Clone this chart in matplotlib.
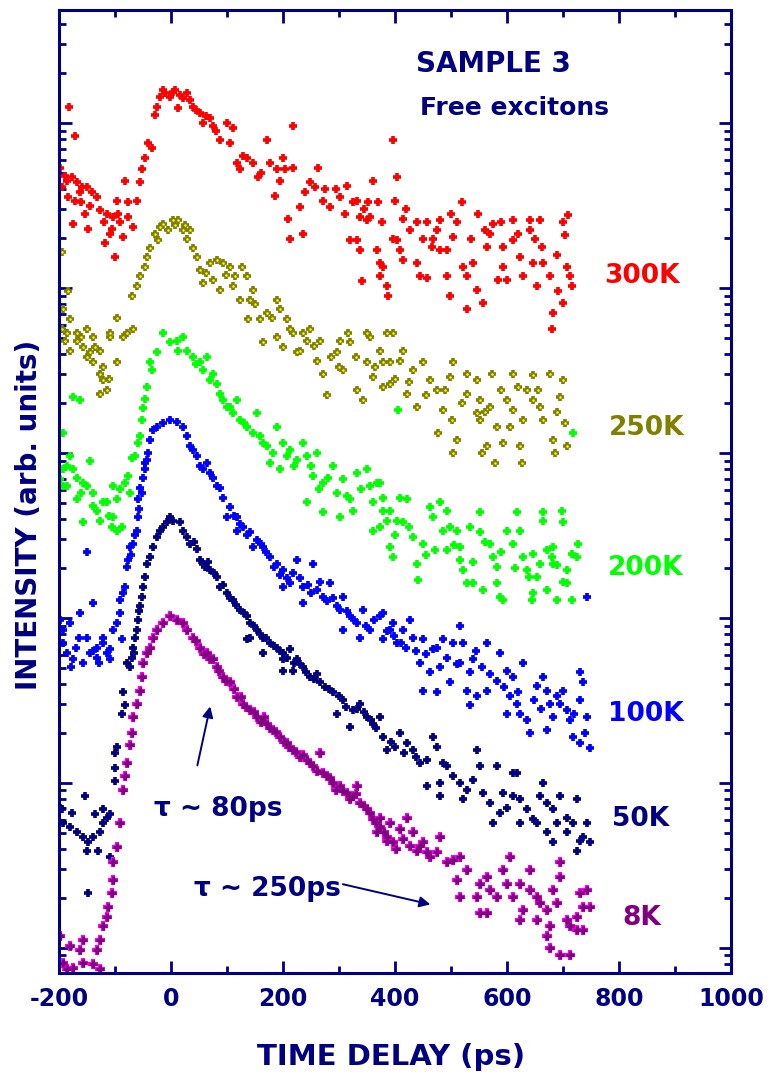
import numpy as np
import matplotlib
matplotlib.use('Agg')
import matplotlib.pyplot as plt
from matplotlib.ticker import LogLocator, NullFormatter

# time delay (ps), log10 of intensity (arb. units)
pts_300k = [(-182,5.10),(-171,4.92),(-198,4.73),(-195,4.61),(-186,4.65),(-177,4.67),(-168,4.64),(-159,4.61),(-184,4.55),
            (-171,4.53),(-163,4.58),(-150,4.61),(-141,4.58),(-132,4.55),(-154,4.45),(-175,4.39),(-148,4.36),(-127,4.47),
            (-114,4.45),(-104,4.43),(-95,4.45),(-91,4.40),(-109,4.33),(-86,4.31),(-118,4.27),(-100,4.19),(-77,4.43),
            (-68,4.37),(-96,4.53),(-77,4.52),(-82,4.65),(-61,4.53),(-55,4.64),(-52,4.72),(-46,4.79),(-41,4.88),(-34,4.85),
            (-29,5.05),(-25,5.10),(-20,5.16),(-14,5.20),(-2,5.16),(4,5.19),(16,5.17),(29,5.18),(34,5.14),(13,5.09),(39,5.10),
            (52,5.06),(57,5.00),(70,5.03),(75,4.98),(88,4.90),(100,5.00),(111,4.97),(105,4.88),(118,4.76),(123,4.72),
            (136,4.79),(146,4.76),(155,4.67),(171,4.90),(177,4.76),(189,4.72),(186,4.56),(200,4.79),(204,4.72),(218,4.73),
            (218,4.98),(209,4.42),(213,4.30),(236,4.33),(230,4.49),(248,4.64),(263,4.73),(257,4.61),(271,4.53),(284,4.49),
            (302,4.55),(314,4.62),(311,4.45),(325,4.52),(338,4.43),(320,4.29),(338,4.23),(350,4.41),(361,4.65),(368,4.23),
            (373,4.15),(386,4.01),(388,3.95),(341,4.04),(396,4.90),(400,4.53),(404,4.29),(332,4.53),(352,4.52),(355,4.43),
            (332,4.29),(377,4.40),(379,4.13),(373,4.07),(404,4.67),(414,4.42),(427,4.35),(439,4.40),(457,4.40),(396,4.30),
            (409,4.23),(414,4.17),(439,4.15),(445,4.07),(457,4.06),(468,4.30),(466,4.25),(480,4.41),(480,4.23),(493,4.23),
            (493,4.07),(498,3.95),(511,4.40),(504,4.31),(521,4.13),(520,4.52),(529,4.07),(529,3.87),(539,4.15),(548,4.45),
            (546,3.99),(557,3.91),(564,4.25),(570,4.33),(575,4.39),(584,4.05),(593,4.25),(593,4.13),(600,4.05),(611,4.41),
            (611,4.29),(623,4.19),(629,4.07),(641,4.41),(641,4.35),(646,4.15),(654,4.01),(659,4.41),(663,4.25),(664,4.15),
            (677,4.07),(682,3.85),(680,3.75),(691,3.98),(700,3.91),(704,4.32),(709,4.44),(707,4.13),(716,4.01),(713,4.07),
            (-10,5.18),(8,5.20),(22,5.15),(45,5.08),(62,5.04),(80,4.95),(128,4.80),(160,4.70),(195,4.65),(240,4.58),
            (275,4.60),(295,4.60),(345,4.48),(370,4.52),(420,4.48),(450,4.30),(475,4.35),(500,4.45),(535,4.30),(560,4.35),
            (590,4.40),(620,4.33),(650,4.30),(690,4.20),(700,4.40),(-190,4.68),(-160,4.52),(-145,4.50),(-120,4.40),
            (-105,4.36)]

pts_250k = [(-195,4.22),(-184,3.98),(-193,3.87),(-180,3.81),(-195,3.75),(-186,3.73),(-168,3.73),(-150,3.75),(-139,3.70),
            (-96,3.82),(-109,3.73),(-86,3.70),(-68,3.75),(-70,3.95),(-61,4.01),(-55,4.07),(-46,4.13),(-43,4.19),(-38,4.24),
            (-29,4.33),(-23,4.29),(-14,4.39),(-5,4.35),(4,4.41),(13,4.41),(21,4.35),(29,4.30),(34,4.35),(39,4.24),(46,4.19),
            (52,4.11),(57,4.03),(70,4.15),(82,4.17),(93,4.15),(105,4.13),(75,4.05),(88,3.99),(111,4.01),(127,4.13),
            (136,4.07),(146,3.99),(141,3.93),(123,3.93),(138,3.81),(159,3.81),(171,3.85),(189,3.93),(195,3.87),(207,3.81),
            (213,3.75),(218,3.73),(236,3.73),(248,3.75),(266,3.68),(302,3.68),(316,3.73),(350,3.73),(355,3.70),(-168,3.68),
            (-180,3.62),(-157,3.64),(-145,3.61),(-127,3.62),(-139,3.55),(-121,3.52),(-96,3.55),(-127,3.48),(-121,3.44),
            (-114,3.38),(-127,3.36),(-79,3.73),(-109,3.70),(164,3.67),(189,3.70),(200,3.64),(225,3.61),(243,3.68),
            (261,3.56),(271,3.48),(279,3.35),(296,3.61),(307,3.50),(320,3.67),(332,3.38),(343,3.32),(350,3.55),(361,3.46),
            (373,3.62),(379,3.40),(391,3.55),(396,3.73),(386,3.73),(379,3.55),(391,3.42),(409,3.56),(414,3.62),(432,3.50),
            (421,3.36),(439,3.28),(450,3.55),(463,3.44),(475,3.38),(486,3.26),(498,3.46),(504,3.55),(502,3.20),(477,3.12),
            (511,3.08),(504,3.00),(529,3.48),(529,3.36),(546,3.44),(552,3.32),(546,3.24),(552,3.20),(564,3.04),(555,3.00),
            (573,3.48),(570,3.28),(582,3.16),(579,2.94),(593,3.06),(600,3.32),(611,3.48),(605,3.16),(611,3.26),(623,3.04),
            (627,2.94),(629,3.20),(636,3.38),(646,3.47),(646,3.32),(659,3.28),(664,3.20),(677,3.48),(682,3.08),(686,3.00),
            (695,3.34),(700,3.44),(704,3.18),(707,3.04),
            (-190,3.68),(-160,3.70),(-150,3.58),(-135,3.64),(-110,3.45),(-20,4.37),(8,4.38),(25,4.38),(62,4.09),(99,4.08),
            (115,4.07),(150,3.90),(180,3.82),(230,3.62),(255,3.65),(285,3.58),(300,3.52),(330,3.58),(365,3.52),(400,3.45),
            (425,3.43),(455,3.35),(490,3.38),(520,3.30),(560,3.25),(590,3.38),(620,3.40),(655,3.38),(690,3.25)]

pts_200k = [(-14,3.73),(-2,3.67),(11,3.68),(21,3.70),(29,3.62),(13,3.62),(-25,3.61),(-38,3.55),(-34,3.50),(-43,3.40),
            (-46,3.33),(-50,3.27),(-52,3.20),(-55,3.10),(-59,3.06),(-64,2.98),(-70,2.97),(-77,2.86),(-82,2.82),(-91,2.78),
            (-73,2.76),(-104,2.80),(-96,2.72),(-104,2.61),(-96,2.53),(-105,2.55),(-88,2.55),(-121,2.70),(-132,2.65),
            (-127,2.59),(-139,2.76),(-150,2.80),(-157,2.82),(-168,2.85),(-175,2.90),(-186,2.92),(-198,2.84),(-193,2.80),
            (-168,2.72),(-157,2.58),(-145,2.95),(-193,3.12),(-175,3.34),(-163,3.32),(-180,2.98),(-193,2.90),(39,3.58),
            (52,3.55),(57,3.50),(64,3.58),(75,3.48),(82,3.42),(70,3.44),(88,3.36),(93,3.32),(105,3.28),(111,3.24),
            (118,3.32),(123,3.20),(136,3.16),(154,3.24),(146,3.12),(159,3.10),(171,3.04),(189,3.16),(200,3.06),(213,3.02),
            (225,2.96),(177,2.94),(195,2.90),(236,3.06),(243,2.98),(261,3.00),(254,2.86),(271,2.82),(289,2.92),(296,2.76),
            (307,2.84),(320,2.72),(332,2.88),(350,2.90),(355,2.80),(368,2.82),(379,2.73),(391,2.65),(404,2.59),(243,2.70),
            (271,2.64),(302,2.61),(325,2.65),(361,2.53),(373,2.55),(391,2.43),(396,2.37),(405,3.26),(373,2.82),(379,2.65),
            (386,2.59),(409,2.73),(421,2.72),(414,2.58),(432,2.49),(439,2.33),(441,2.23),(450,2.45),(463,2.67),(468,2.61),
            (480,2.70),(493,2.65),(486,2.53),(498,2.55),(511,2.53),(471,2.41),(493,2.41),(516,2.43),(516,2.35),(521,2.29),
            (529,2.21),(539,2.21),(534,2.55),(552,2.64),(552,2.52),(557,2.17),(570,2.45),(575,2.37),(582,2.31),(582,2.21),
            (588,2.13),(593,2.11),(600,2.53),(611,2.45),(618,2.64),(623,2.53),(629,2.37),(636,2.29),(646,2.39),(654,2.25),
            (659,2.33),(646,2.15),(645,2.11),(664,2.64),(664,2.59),(671,2.41),(682,2.43),(680,2.37),(682,2.33),(671,2.17),
            (689,2.11),(698,2.65),(700,2.58),(707,2.29),(707,2.21),(716,2.11),(716,2.39),(725,2.37),(727,2.45),(718,3.12),
            (45,3.54),(100,3.28),(130,3.18),(165,3.06),(182,3.00),(207,2.98),(220,2.92),(250,2.92),(265,2.78),(280,2.85),
            (315,2.74),(340,2.78),(360,2.70),(400,2.50),(425,2.55),(455,2.38),(505,2.44),(540,2.34),(560,2.46),(590,2.40),
            (615,2.30),(640,2.25),(690,2.32),(700,2.22),(-185,2.80),(-160,2.76),(-140,2.68),(-115,2.70),(-110,2.62)]

pts_100k = [(-2,3.20),(11,3.19),(-14,3.18),(-25,3.16),(-32,3.14),(-38,3.08),(-41,3.00),(-43,2.96),(-46,2.94),(-50,2.85),
            (-55,2.79),(-59,2.72),(-59,2.61),(-61,2.53),(-68,2.45),(-73,2.43),(-77,2.35),(-79,2.31),(-82,2.19),(-91,2.11),
            (-91,2.03),(-96,1.97),(-104,1.93),(-88,1.87),(-109,1.81),(-121,1.85),(-132,1.76),(-145,1.79),(-157,1.73),
            (-175,1.75),(-186,1.79),(-193,1.85),(-193,1.93),(-180,1.97),(-198,1.99),(-163,2.03),(-150,1.88),(-132,1.82),
            (-121,1.88),(-139,2.09),(-150,2.40),(-109,1.75),(21,3.16),(29,3.10),(34,3.04),(46,2.98),(52,2.92),(64,2.94),
            (75,2.85),(88,2.79),(93,2.73),(105,2.67),(118,2.61),(129,2.55),(141,2.52),(154,2.47),(164,2.43),(177,2.37),
            (189,2.33),(200,2.29),(213,2.21),(225,2.35),(236,2.19),(254,2.33),(261,2.17),(271,2.13),(284,2.21),(296,2.07),
            (307,2.13),(320,2.01),(332,1.97),(343,2.05),(355,1.93),(373,2.01),(379,1.87),(391,1.93),(404,1.85),(338,1.88),
            (100,2.61),(118,2.53),(146,2.43),(200,2.19),(236,2.09),(307,1.93),(379,2.03),(396,1.97),(414,1.93),(427,1.99),
            (432,1.88),(450,1.87),(468,1.81),(486,1.87),(504,1.85),(516,1.95),(521,1.85),(539,1.75),(564,1.85),(588,1.79),
            (445,1.73),(629,1.73),(743,2.13),(463,1.67),(450,1.56),(480,1.70),(498,1.61),(475,1.55),(516,1.73),(534,1.67),
            (529,1.56),(546,1.53),(534,1.47),(564,1.56),(582,1.62),(600,1.68),(611,1.64),(605,1.53),(600,1.42),(618,1.48),
            (623,1.42),(636,1.38),(641,1.30),(654,1.59),(664,1.64),(671,1.56),(677,1.48),(682,1.40),(671,1.32),(689,1.53),
            (700,1.56),(707,1.44),(713,1.38),(730,1.67),(736,1.61),(730,1.50),(743,1.40),(718,1.28),(730,1.24),(748,1.21),
            (40,3.02),(58,2.90),(70,2.88),(82,2.80),(112,2.62),(124,2.57),(135,2.50),(160,2.45),(170,2.40),(184,2.31),
            (195,2.26),(207,2.24),(218,2.27),(230,2.24),(245,2.20),(250,2.15),(266,2.22),(278,2.10),(290,2.12),(302,2.05),
            (314,2.04),(326,1.99),(348,1.95),(362,1.99),(385,1.92),(398,1.89),(410,1.85),(420,1.82),(438,1.80),(456,1.78),
            (475,1.82),(492,1.76),(510,1.72),(545,1.80),(555,1.70),(570,1.66),(595,1.58),(620,1.55),(648,1.50),(660,1.45),
            (695,1.48),(720,1.42),(740,1.30),(-47,2.90),(-52,2.76),(-57,2.66),(-64,2.50),(-71,2.38),(-86,2.15),
            (-170,1.82),(-165,1.88),(-140,1.80),(-115,1.79),(-178,1.70),(-128,1.73)]

pts_50k = [(-2,2.61),(4,2.59),(-7,2.58),(-14,2.55),(-20,2.53),(-25,2.49),(-32,2.43),(-38,2.37),(-43,2.33),(-46,2.25),
           (-50,2.19),(-52,2.13),(-55,2.07),(-59,1.99),(-61,1.93),(-68,1.82),(-70,1.76),(-73,1.70),(16,2.58),(21,2.53),
           (29,2.49),(34,2.45),(46,2.42),(52,2.35),(57,2.33),(70,2.29),(82,2.25),(88,2.19),(100,2.15),(111,2.11),
           (123,2.05),(136,2.01),(141,1.97),(154,1.93),(164,1.88),(177,1.85),(189,1.82),(200,1.79),(213,1.81),(225,1.75),
           (236,1.70),(141,1.88),(164,1.79),(136,1.87),(-86,1.55),(-82,1.47),(-88,1.42),(-96,1.22),(-100,1.18),
           (-100,1.09),(-100,1.01),(-154,0.92),(-195,0.84),(-193,0.76),(-180,0.73),(-168,0.70),(-157,0.67),(-148,0.64),
           (-139,0.67),(-127,0.70),(-121,0.76),(-114,0.79),(-109,0.81),(-136,0.81),(-121,0.84),(-150,0.59),(-130,0.59),
           (-109,0.55),(-148,0.33),(-177,0.82),(-198,0.85),(-79,1.73),(200,1.75),(218,1.68),(248,1.64),(266,1.61),
           (289,1.55),(307,1.50),(325,1.44),(338,1.48),(350,1.40),(361,1.36),(379,1.28),(386,1.20),(320,1.34),(296,1.42),
           (200,1.68),(373,1.40),(409,1.30),(421,1.24),(432,1.20),(445,1.12),(457,1.14),(468,1.28),(475,1.22),(486,1.12),
           (493,1.10),(480,1.00),(457,0.98),(480,0.92),(504,1.04),(516,1.00),(529,0.96),(539,1.02),(546,1.20),(552,1.10),
           (521,0.90),(557,0.94),(570,0.88),(582,1.10),(593,0.94),(588,0.82),(575,0.76),(600,0.85),(611,0.92),(618,1.06),
           (623,0.90),(623,0.76),(636,0.84),(646,0.78),(654,0.76),(659,0.92),(664,1.00),(671,0.88),(682,0.84),(671,0.70),
           (689,0.76),(695,0.92),(707,0.79),(682,0.64),(707,0.70),(718,0.76),(725,0.90),(730,0.65),(743,0.76),(748,0.64),
           (725,0.59),(736,0.67),(611,1.06),
           (41,2.46),(61,2.31),(66,2.34),(77,2.27),(93,2.20),(105,2.12),(116,2.08),(130,2.03),(148,1.95),(159,1.90),
           (170,1.88),(184,1.83),(195,1.80),(207,1.76),(220,1.73),(230,1.72),(241,1.67),(255,1.63),(260,1.66),(275,1.58),
           (282,1.57),(300,1.53),(313,1.46),(332,1.45),(345,1.43),(357,1.38),(366,1.33),(392,1.25),(400,1.22),(416,1.18),
           (438,1.16),(-57,2.04),(-64,1.88),(-66,1.79)]

pts_8k = [(-2,2.01),(11,1.99),(-14,1.97),(21,1.97),(-25,1.93),(29,1.93),(-32,1.88),(39,1.88),(-38,1.82),(52,1.82),
          (-43,1.79),(64,1.79),(-50,1.73),(75,1.75),(82,1.70),(-52,1.64),(-55,1.56),(-61,1.48),(-68,1.40),(-70,1.30),
          (-73,1.23),(-79,1.12),(-82,1.04),(-86,0.96),(-91,0.76),(-96,0.61),(-104,0.52),(-104,0.41),(-105,0.33),
          (-113,0.25),(-114,0.19),(-121,0.13),(-127,0.05),(-132,-0.01),(-198,0.07),(-180,0.01),(-163,-0.01),(-157,0.05),
          (-193,-0.09),(-175,-0.12),(-157,-0.09),(-139,-0.10),(-127,-0.13),(-186,-0.13),(70,1.75),(93,1.64),(105,1.61),
          (118,1.52),(129,1.48),(141,1.44),(154,1.40),(171,1.36),(182,1.32),(195,1.28),(207,1.24),(218,1.20),(230,1.16),
          (243,1.14),(254,1.10),(266,1.18),(279,1.04),(289,1.00),(302,0.98),(314,0.94),(325,0.92),(338,0.88),(350,0.84),
          (361,0.78),(373,0.73),(386,0.67),(396,0.64),(368,0.70),(332,0.98),(373,0.79),(391,0.76),(386,0.65),(409,0.72),
          (421,0.79),(432,0.70),(439,0.59),(450,0.64),(463,0.55),(480,0.67),(475,0.58),(493,0.52),(504,0.53),(516,0.55),
          (511,0.41),(529,0.47),(516,0.31),(546,0.31),(552,0.39),(564,0.43),(570,0.35),(582,0.31),(552,0.21),(564,0.21),
          (593,0.47),(600,0.39),(605,0.55),(611,0.31),(623,0.39),(629,0.23),(623,0.17),(641,0.47),(641,0.35),(654,0.31),
          (654,0.17),(659,0.27),(671,0.23),(682,0.35),(677,0.13),(671,0.07),(677,0.00),(689,0.27),(695,0.52),(695,0.43),
          (707,0.17),(713,0.13),(725,0.11),(725,0.19),(730,0.33),(736,0.25),(743,0.35),(748,0.25),(736,0.11),(695,-0.04),
          (713,-0.04),
          (45,1.86),(59,1.78),(86,1.68),(98,1.62),(112,1.57),(125,1.52),(134,1.46),(148,1.43),(161,1.37),(166,1.40),
          (177,1.33),(188,1.31),(202,1.25),(211,1.22),(223,1.19),(236,1.17),(248,1.12),(261,1.07),(272,1.06),(284,1.03),
          (295,0.96),(307,0.95),(320,0.90),(330,0.93),(344,0.86),(355,0.82),(366,0.76),(380,0.70),(402,0.60),(414,0.66),
          (426,0.62),(445,0.62),(458,0.58)]

labels = ['300K', '250K', '200K', '100K', '50K', '8K']
colors = ['#ff0000', '#808000', '#00ff00', '#0000ff', '#000080', '#800080']
label_x = [841, 850, 847, 848, 839, 841]
label_logy = [4.07, 3.15, 2.30, 1.42, 0.78, 0.18]

navy = '#000080'
plt.rcParams['font.family'] = ['DejaVu Sans']
plt.rcParams['font.weight'] = 'bold'
plt.rcParams['axes.unicode_minus'] = False

fig = plt.figure(figsize=(7.68, 10.78), dpi=100)
ax = fig.add_axes([59/768, 105/1078, 672/768, 963/1078])

all_pts = [pts_300k, pts_250k, pts_200k, pts_100k, pts_50k, pts_8k]
for pts, col, lab in zip(all_pts, colors, labels):
    t, lg = np.array(pts).T
    y = 10**lg
    if lab == '8K':
        # purple crosses with a thin magenta rim
        ax.plot(t, y, ls='none', marker='+', ms=6.5, mew=3.0, color='#ff00ff')
        ax.plot(t, y, ls='none', marker='+', ms=5.8, mew=2.3, color=col)
    else:
        ax.plot(t, y, ls='none', marker='+', ms=6, mew=2.6, color=col)
        if lab == '250K':
            ax.plot(t, y, ls='none', marker='.', ms=1.6, color='#ffff00')

for lab, col, lx, ly in zip(labels, colors, label_x, label_logy):
    ax.text(lx, 10**ly, lab, color=col, fontsize=19, fontweight='bold', ha='center', va='center')

ax.text(575, 10**5.36, 'SAMPLE 3', color=navy, fontsize=20, fontweight='bold', ha='center', va='center')
ax.text(614, 10**5.09, 'Free excitons', color=navy, fontsize=18, fontweight='bold', ha='center', va='center')

ax.text(84, 10**0.84, 'τ ~ 80ps', color=navy, fontsize=19, fontweight='bold', ha='center', va='center')
ax.text(173, 10**0.36, 'τ ~ 250ps', color=navy, fontsize=19, fontweight='bold', ha='center', va='center')
ax.annotate('', xy=(71, 10**1.48), xytext=(46, 10**1.09),
            arrowprops=dict(arrowstyle='-|>', color=navy, lw=1.4, mutation_scale=16))
ax.annotate('', xy=(468, 10**0.26), xytext=(302, 10**0.39),
            arrowprops=dict(arrowstyle='-|>', color=navy, lw=1.4, mutation_scale=16))

ax.set_xlim(-200, 1000)
ax.set_yscale('log')
ax.set_ylim(10**-0.152, 10**5.685)
ax.set_xticks(range(-200, 1001, 200))
ax.set_xticks(range(-100, 1000, 200), minor=True)
ax.yaxis.set_major_locator(LogLocator(base=10, numticks=20))
ax.yaxis.set_minor_locator(LogLocator(base=10, subs=np.arange(2, 10), numticks=100))
ax.yaxis.set_minor_formatter(NullFormatter())

ax.tick_params(which='both', direction='in', top=True, right=True, color=navy, width=2)
ax.tick_params(which='major', length=9)
ax.tick_params(which='minor', length=5)
ax.tick_params(axis='y', which='both', labelleft=False)
ax.tick_params(axis='x', labelsize=17, labelcolor=navy, pad=10)
for lbl in ax.get_xticklabels():
    lbl.set_fontweight('bold')
for sp in ax.spines.values():
    sp.set_color(navy)
    sp.set_linewidth(2.2)

fig.text(391/768, 1 - 1057/1078, 'TIME DELAY (ps)', color=navy, fontsize=21, fontweight='bold', ha='center', va='center')
fig.text(29/768, 1 - 515/1078, 'INTENSITY (arb. units)', color=navy, fontsize=20, fontweight='bold',
         ha='center', va='center', rotation=90)

fig.savefig('out.png', dpi=100)
